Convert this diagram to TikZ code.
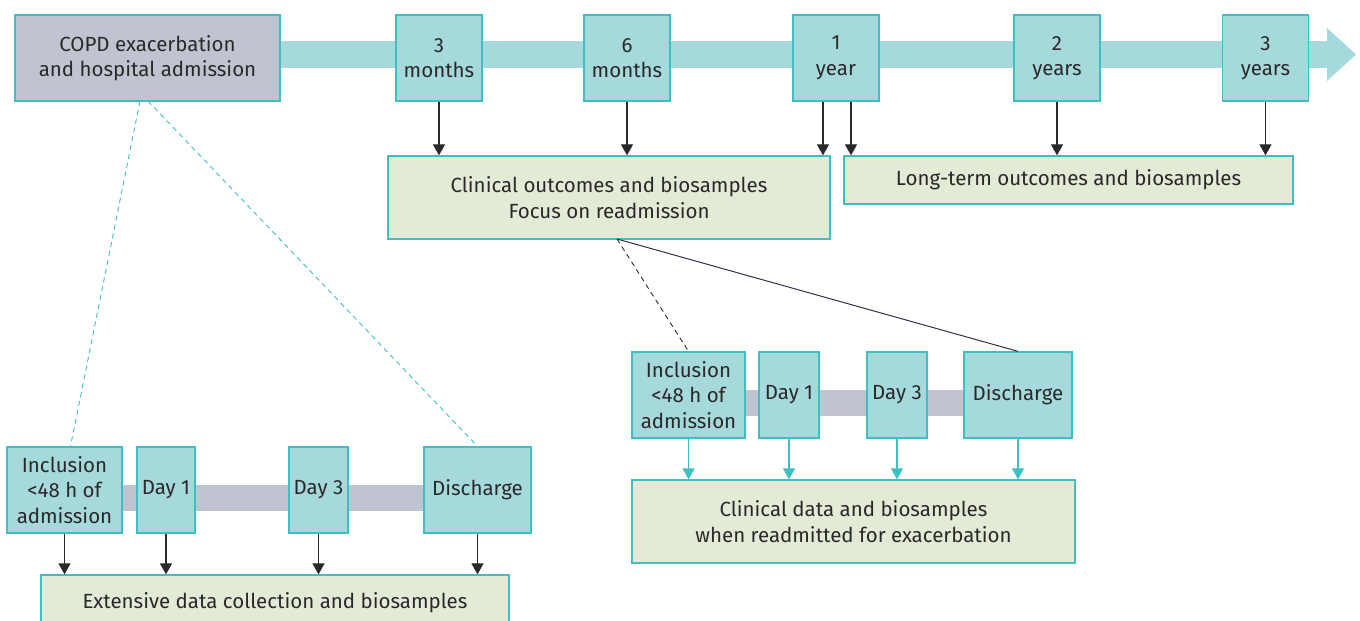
\documentclass[tikz,border=0pt]{standalone}
\usepackage{fontspec}
\setmainfont{Fira Sans}[Scale=1]
\usetikzlibrary{arrows.meta,calc}
\definecolor{tealfill}{HTML}{A6D9DC}
\definecolor{tealline}{HTML}{3EBFC1}
\definecolor{grayfill}{HTML}{C0C4D0}
\definecolor{greenfill}{HTML}{E3EBD7}
\definecolor{txt}{HTML}{2A2829}
\definecolor{purp}{HTML}{3D2B4A}
\tikzset{
  base/.style={draw=tealline, line width=1.3pt, inner sep=0pt, align=center,
    text=txt, font=\fontsize{20.5}{25.5}\selectfont},
  tbox/.style={base, fill=tealfill},
  gbox/.style={base, fill=grayfill},
  obox/.style={base, fill=greenfill},
  darr/.style={draw=txt, line width=1.2pt, -{Triangle[width=12pt,length=11pt]}},
  tarr/.style={draw=tealline, line width=1.2pt, -{Triangle[width=12pt,length=11pt]}},
}
\begin{document}
\begin{tikzpicture}[x=1pt,y=-1pt]
\useasboundingbox (0,0) rectangle (1360,621);
% timeline band
\fill[tealfill] (280,41) rectangle (1328,68);
\fill[tealfill] (1327,28) -- (1356,54.5) -- (1327,81) -- cycle;
% top row
\node[gbox, minimum width=265pt, minimum height=86pt] (copd) at (147.5,58) {COPD exacerbation\\and hospital admission};
\node[tbox, minimum width=86pt, minimum height=86pt] (m3) at (439,58) {3\\months};
\node[tbox, minimum width=86pt, minimum height=86pt] (m6) at (627,58) {6\\months};
\node[tbox, minimum width=86pt, minimum height=86pt] (y1) at (836,58) {1\\year};
\node[tbox, minimum width=86pt, minimum height=86pt] (y2) at (1057,58) {2\\years};
\node[tbox, minimum width=86pt, minimum height=86pt] (y3) at (1265.5,58) {3\\years};
% outcome boxes
\node[obox, minimum width=442pt, minimum height=83pt] (clin) at (609,197.5) {Clinical outcomes and biosamples\\Focus on readmission};
\node[obox, minimum width=449pt, minimum height=48pt] (long) at (1068.5,180) {Long-term outcomes and biosamples};
% arrows from time points
\draw[darr] (m3.south) -- (m3.south |- clin.north);
\draw[darr] (m6.south) -- (m6.south |- clin.north);
\draw[darr] ([xshift=-13pt]y1.south) -- ([xshift=-13pt]y1.south |- clin.north);
\draw[darr] ([xshift=15pt]y1.south) -- ([xshift=15pt]y1.south |- long.north);
\draw[darr] (y2.south) -- (y2.south |- long.north);
\draw[darr] (y3.south) -- (y3.south |- long.north);
% lower right
\fill[grayfill] (745,390) rectangle (964,416);
\node[tbox, minimum width=113pt, minimum height=86pt] (rinc) at (688.5,395) {Inclusion\\<48 h of\\admission};
\node[tbox, minimum width=60pt, minimum height=86pt] (rd1) at (789,395) {Day 1};
\node[tbox, minimum width=60pt, minimum height=86pt] (rd3) at (897,395) {Day 3};
\node[tbox, minimum width=108pt, minimum height=86pt] (rdis) at (1018,395) {Discharge};
\node[obox, minimum width=443pt, minimum height=83pt] (cdat) at (853.5,521.5) {Clinical data and biosamples\\when readmitted for exacerbation};
\draw[tarr] (rinc.south) -- (rinc.south |- cdat.north);
\draw[tarr] (rd1.south) -- (rd1.south |- cdat.north);
\draw[tarr] (rd3.south) -- (rd3.south |- cdat.north);
\draw[tarr] (rdis.south) -- (rdis.south |- cdat.north);
\coordinate (cs) at (617,239);
\draw[txt, line width=0.9pt, dash pattern=on 5pt off 4pt] (cs) -- (rinc.north);
\draw[purp, line width=1pt] (cs) -- (rdis.north);
% lower left
\fill[grayfill] (122,485) rectangle (424,511);
\node[tbox, minimum width=115pt, minimum height=86pt] (linc) at (64.5,490) {Inclusion\\<48 h of\\admission};
\node[tbox, minimum width=58pt, minimum height=86pt] (ld1) at (166,490) {Day 1};
\node[tbox, minimum width=59pt, minimum height=86pt] (ld3) at (318.5,490) {Day 3};
\node[tbox, minimum width=107pt, minimum height=86pt] (ldis) at (477.5,490) {Discharge};
\node[obox, minimum width=468pt, minimum height=56pt] (ext) at (275,603) {Extensive data collection and biosamples};
\draw[darr] (linc.south) -- (linc.south |- ext.north);
\draw[darr] (ld1.south) -- (ld1.south |- ext.north);
\draw[darr] (ld3.south) -- (ld3.south |- ext.north);
\draw[darr] (ldis.south) -- (ldis.south |- ext.north);
\coordinate (c1) at (140,101);
\coordinate (c2) at (148,101);
\draw[tealline, line width=0.9pt, dash pattern=on 5pt off 4pt] (c1) -- ([xshift=6pt]linc.north);
\draw[tealline, line width=0.9pt, dash pattern=on 5pt off 4pt] (c2) -- (ldis.north);
\end{tikzpicture}
\end{document}
